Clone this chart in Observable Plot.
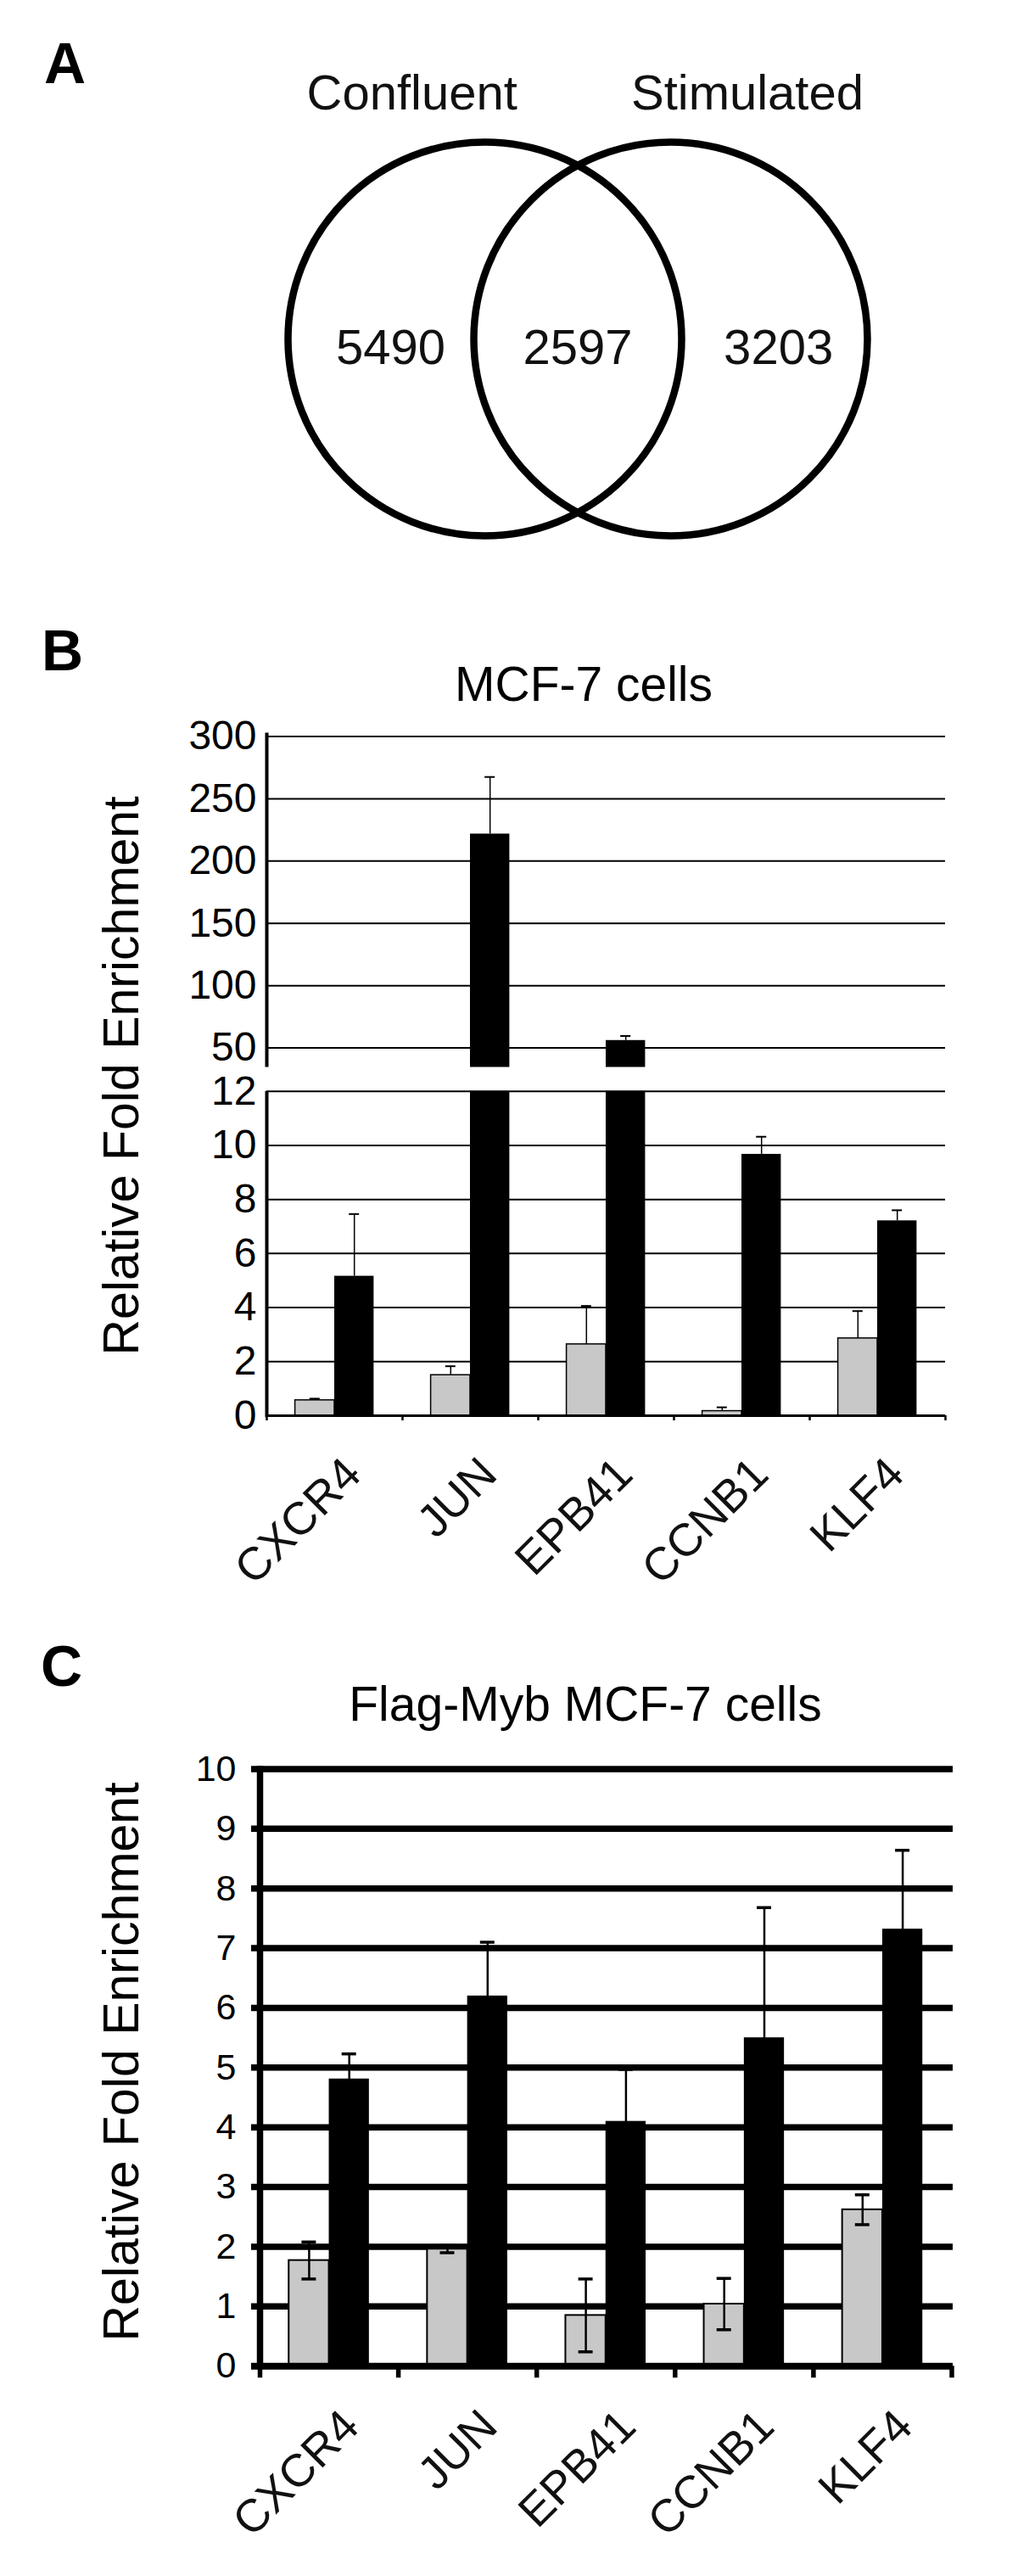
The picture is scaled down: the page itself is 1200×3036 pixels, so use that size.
<!DOCTYPE html>
<html><head><meta charset="utf-8">
<script src="https://cdn.jsdelivr.net/npm/d3@7"></script>
<script src="https://cdn.jsdelivr.net/npm/@observablehq/plot@0.6"></script>
<style>
body{margin:0;background:#fff;}
#fig{position:relative;width:1200px;height:3036px;overflow:hidden;font-family:"Liberation Sans",Arial,Helvetica,sans-serif;color:#000;background:#fff;}
#fig svg{position:absolute;left:0;overflow:visible;}
.panel{position:absolute;font-weight:bold;font-size:68px;line-height:1;white-space:nowrap;}
.title{position:absolute;font-size:57px;line-height:1;text-align:center;white-space:nowrap;width:800px;}
.ylab{position:absolute;font-size:59px;line-height:1;white-space:nowrap;transform:translate(-50%,-50%) rotate(-90deg);}
</style></head><body><div id="fig"></div><script>
// ---------- data ----------
const vennSets = ["Confluent", "Stimulated"];
const vennRegions = ["Confluent only", "Both", "Stimulated only"];
const vennCounts = [5490, 2597, 3203];

const genes = ["CXCR4", "JUN", "EPB41", "CCNB1", "KLF4"];
const seriesNames = ["Control", "Myb"];

// Panel B: MCF-7 cells
const mcfControl    = [0.57, 1.50, 2.64, 0.17, 2.86];
const mcfControlErr = [0.06, 0.33, 1.42, 0.14, 1.01];
const mcfMyb        = [5.16, 221.7, 56.0, 9.67, 7.21];
const mcfMybErr     = [2.30, 45.8, 3.6, 0.65, 0.39];
const mcfUpperTicks = [50, 100, 150, 200, 250, 300];
const mcfLowerTicks = [0, 2, 4, 6, 8, 10, 12];

// Panel C: Flag-Myb MCF-7 cells
const flagControl    = [1.77, 1.96, 0.85, 1.04, 2.62];
const flagControlErr = [0.31, 0.06, 0.61, 0.43, 0.25];
const flagMyb        = [4.81, 6.20, 4.10, 5.50, 7.32];
const flagMybErr     = [0.42, 0.90, 0.87, 2.18, 1.32];
const flagTicks      = [0, 1, 2, 3, 4, 5, 6, 7, 8, 9, 10];

// ---------- helpers ----------
const FONT = '"Liberation Sans", Arial, Helvetica, sans-serif';
const GRAY = "#c8c8c8";
const fig = document.getElementById("fig");

function rowsFor(ctrl, ctrlErr, myb, mybErr) {
  return genes.flatMap((gene, i) => [
    {gene, i, series: seriesNames[0], value: ctrl[i], err: ctrlErr[i]},
    {gene, i, series: seriesNames[1], value: myb[i], err: mybErr[i]}
  ]);
}
const HW = 0.145;
const barX1 = d => d.i + 0.5 + (d.series === seriesNames[0] ? -2 * HW : 0);
const barX2 = d => barX1(d) + 2 * HW;
const barC = d => barX1(d) + HW;
const isCtrl = d => d.series === seriesNames[0];

function addSvg(svg, top) { svg.style.top = top + "px"; fig.appendChild(svg); }
function addDiv(cls, text, left, top) {
  const el = document.createElement("div");
  el.className = cls; el.textContent = text;
  el.style.left = left + "px"; el.style.top = top + "px";
  fig.appendChild(el); return el;
}
const baseStyle = {fontFamily: FONT, fontSize: "48px", color: "black", background: "none", overflow: "visible"};

// ---------- Panel A: Venn ----------
const R = 232, CX = 680.5, CY = 399, VW = 1200, VH = 690, OFF = 0.472;
const regionX = [-0.95, 0, 1.02];
const venn = Plot.plot({
  width: VW, height: VH, margin: 0,
  style: baseStyle,
  x: {domain: [-CX / R, (VW - CX) / R], axis: null},
  y: {domain: [-CY / R, (VH - CY) / R], reverse: true, axis: null},
  marks: [
    Plot.dot(vennSets, {x: (d, i) => i ? OFF : -OFF, y: 0, r: R, stroke: "black", strokeWidth: 8.5, fill: "none"}),
    Plot.text(vennSets, {x: (d, i) => i ? OFF + 0.39 : -(OFF + 0.37), y: -1.168, text: d => d, fontSize: 58, lineAnchor: "bottom", fill: "#111"}),
    Plot.text(vennCounts, {x: (d, i) => regionX[i], y: 0.049, text: d => String(d), fontSize: 58, lineAnchor: "middle", fill: "#111"})
  ]
});
addSvg(venn, 0);
addDiv("panel", "A", 52, 40.4);

// ---------- Panel B: MCF-7 cells (broken axis) ----------
const bRows = rowsFor(mcfControl, mcfControlErr, mcfMyb, mcfMybErr);
const UPPER_MIN = 34.4;

function errUp(rows) {
  return [
    Plot.ruleX(rows, {x: barC, y1: "value", y2: d => d.value + d.err, stroke: "black", strokeWidth: 1.5}),
    Plot.ruleY(rows, {y: d => d.value + d.err, x1: barC, x2: barC, insetLeft: -6, insetRight: -6, stroke: "black", strokeWidth: 2})
  ];
}

const upRows = bRows.filter(d => d.value > UPPER_MIN);
const upper = Plot.plot({
  width: 1200, height: 427.5, marginTop: 37.5, marginBottom: 0, marginLeft: 314, marginRight: 86,
  style: baseStyle,
  x: {domain: [0, genes.length], axis: null},
  y: {domain: [UPPER_MIN, 300], clamp: true, axis: null},
  marks: [
    Plot.ruleY(mcfUpperTicks, {y: d => d, stroke: "black", strokeWidth: 2}),
    Plot.rectY(upRows.filter(isCtrl), {x1: barX1, x2: barX2, y1: UPPER_MIN, y2: "value", fill: GRAY, stroke: "black", strokeWidth: 1.5}),
    Plot.rectY(upRows.filter(d => !isCtrl(d)), {x1: barX1, x2: barX2, y1: UPPER_MIN, y2: "value", fill: "black"}),
    ...errUp(upRows),
    Plot.ruleX([0], {x: d => d, stroke: "black", strokeWidth: 4, insetTop: -4}),
    Plot.axisY({ticks: mcfUpperTicks, tickSize: 0, tickPadding: 12, fontSize: 48, label: null})
  ]
});
addSvg(upper, 830);

const lowRowsErr = bRows.filter(d => d.value + d.err <= 12);
const lower = Plot.plot({
  width: 1200, height: 620, marginTop: 25.7, marginBottom: 212, marginLeft: 314, marginRight: 86,
  style: baseStyle,
  x: {domain: [0, genes.length], axis: null},
  y: {domain: [0, 12], clamp: true, axis: null},
  marks: [
    Plot.ruleY(mcfLowerTicks.filter(t => t > 0), {y: d => d, stroke: "black", strokeWidth: 2}),
    Plot.rectY(bRows.filter(isCtrl), {x1: barX1, x2: barX2, y1: 0, y2: "value", fill: GRAY, stroke: "black", strokeWidth: 1.5}),
    Plot.rectY(bRows.filter(d => !isCtrl(d)), {x1: barX1, x2: barX2, y1: 0, y2: "value", fill: "black"}),
    ...errUp(lowRowsErr),
    Plot.ruleY([0], {y: d => d, stroke: "black", strokeWidth: 3}),
    Plot.ruleX(d3.range(genes.length + 1), {x: d => d, y1: 0, y2: 0, insetBottom: -6, stroke: "black", strokeWidth: 2.5}),
    Plot.ruleX([0], {x: d => d, stroke: "black", strokeWidth: 4, insetBottom: -2}),
    Plot.axisY({ticks: mcfLowerTicks, tickSize: 0, tickPadding: 12, fontSize: 48, label: null}),
    Plot.text(genes, {x: (d, i) => i + 0.5, frameAnchor: "bottom", text: d => d, rotate: -45, textAnchor: "end", lineAnchor: "bottom", dx: 34, dy: 72, fontSize: 54, fill: "#111"})
  ]
});
addSvg(lower, 1260);

addDiv("panel", "B", 49, 732.4);
addDiv("title", "MCF-7 cells", 688 - 400, 777.7);
addDiv("ylab", "Relative Fold Enrichment", 142.5, 1268);

// ---------- Panel C: Flag-Myb MCF-7 cells ----------
const cRows = rowsFor(flagControl, flagControlErr, flagMyb, flagMybErr);
const cPlot = Plot.plot({
  width: 1200, height: 965.2, marginTop: 39.5, marginBottom: 222, marginLeft: 306, marginRight: 78.5,
  style: baseStyle,
  x: {domain: [0, genes.length], axis: null},
  y: {domain: [0, 10], axis: null},
  marks: [
    Plot.ruleY(flagTicks.filter(t => t > 0), {y: d => d, stroke: "black", strokeWidth: 7.5, insetLeft: -10, insetRight: -1.5}),
    Plot.rectY(cRows.filter(isCtrl), {x1: barX1, x2: barX2, y1: 0, y2: "value", fill: GRAY, stroke: "black", strokeWidth: 2}),
    Plot.rectY(cRows.filter(d => !isCtrl(d)), {x1: barX1, x2: barX2, y1: 0, y2: "value", fill: "black"}),
    Plot.ruleX(cRows, {x: barC, y1: d => d.value - d.err, y2: d => d.value + d.err, stroke: "black", strokeWidth: 2.5}),
    Plot.ruleY(cRows, {y: d => d.value + d.err, x1: barC, x2: barC, insetLeft: -8.5, insetRight: -8.5, stroke: "black", strokeWidth: 3.5}),
    Plot.ruleY(cRows, {y: d => d.value - d.err, x1: barC, x2: barC, insetLeft: -8.5, insetRight: -8.5, stroke: "black", strokeWidth: 3.5}),
    Plot.ruleY([0], {y: d => d, stroke: "black", strokeWidth: 8, insetLeft: -10, insetRight: -1.5}),
    Plot.ruleX(d3.range(genes.length + 1), {x: d => d, y1: 0, y2: 0, insetBottom: -14, stroke: "black", strokeWidth: 5.5}),
    Plot.ruleX([0], {x: d => d, stroke: "black", strokeWidth: 7.5, insetTop: -3.5, insetBottom: -4}),
    Plot.axisY({ticks: flagTicks, tickSize: 0, tickPadding: 28, fontSize: 43, label: null}),
    Plot.text(genes, {x: (d, i) => i + 0.5, frameAnchor: "bottom", text: d => d, rotate: -45, textAnchor: "end", lineAnchor: "bottom", dx: 38, dy: 74, fontSize: 54, fill: "#111"})
  ]
});
addSvg(cPlot, 2045);

addDiv("panel", "C", 48, 1929.4);
addDiv("title", "Flag-Myb MCF-7 cells", 690 - 400, 1979.7);
addDiv("ylab", "Relative Fold Enrichment", 142.5, 2429.5);
</script></body></html>
